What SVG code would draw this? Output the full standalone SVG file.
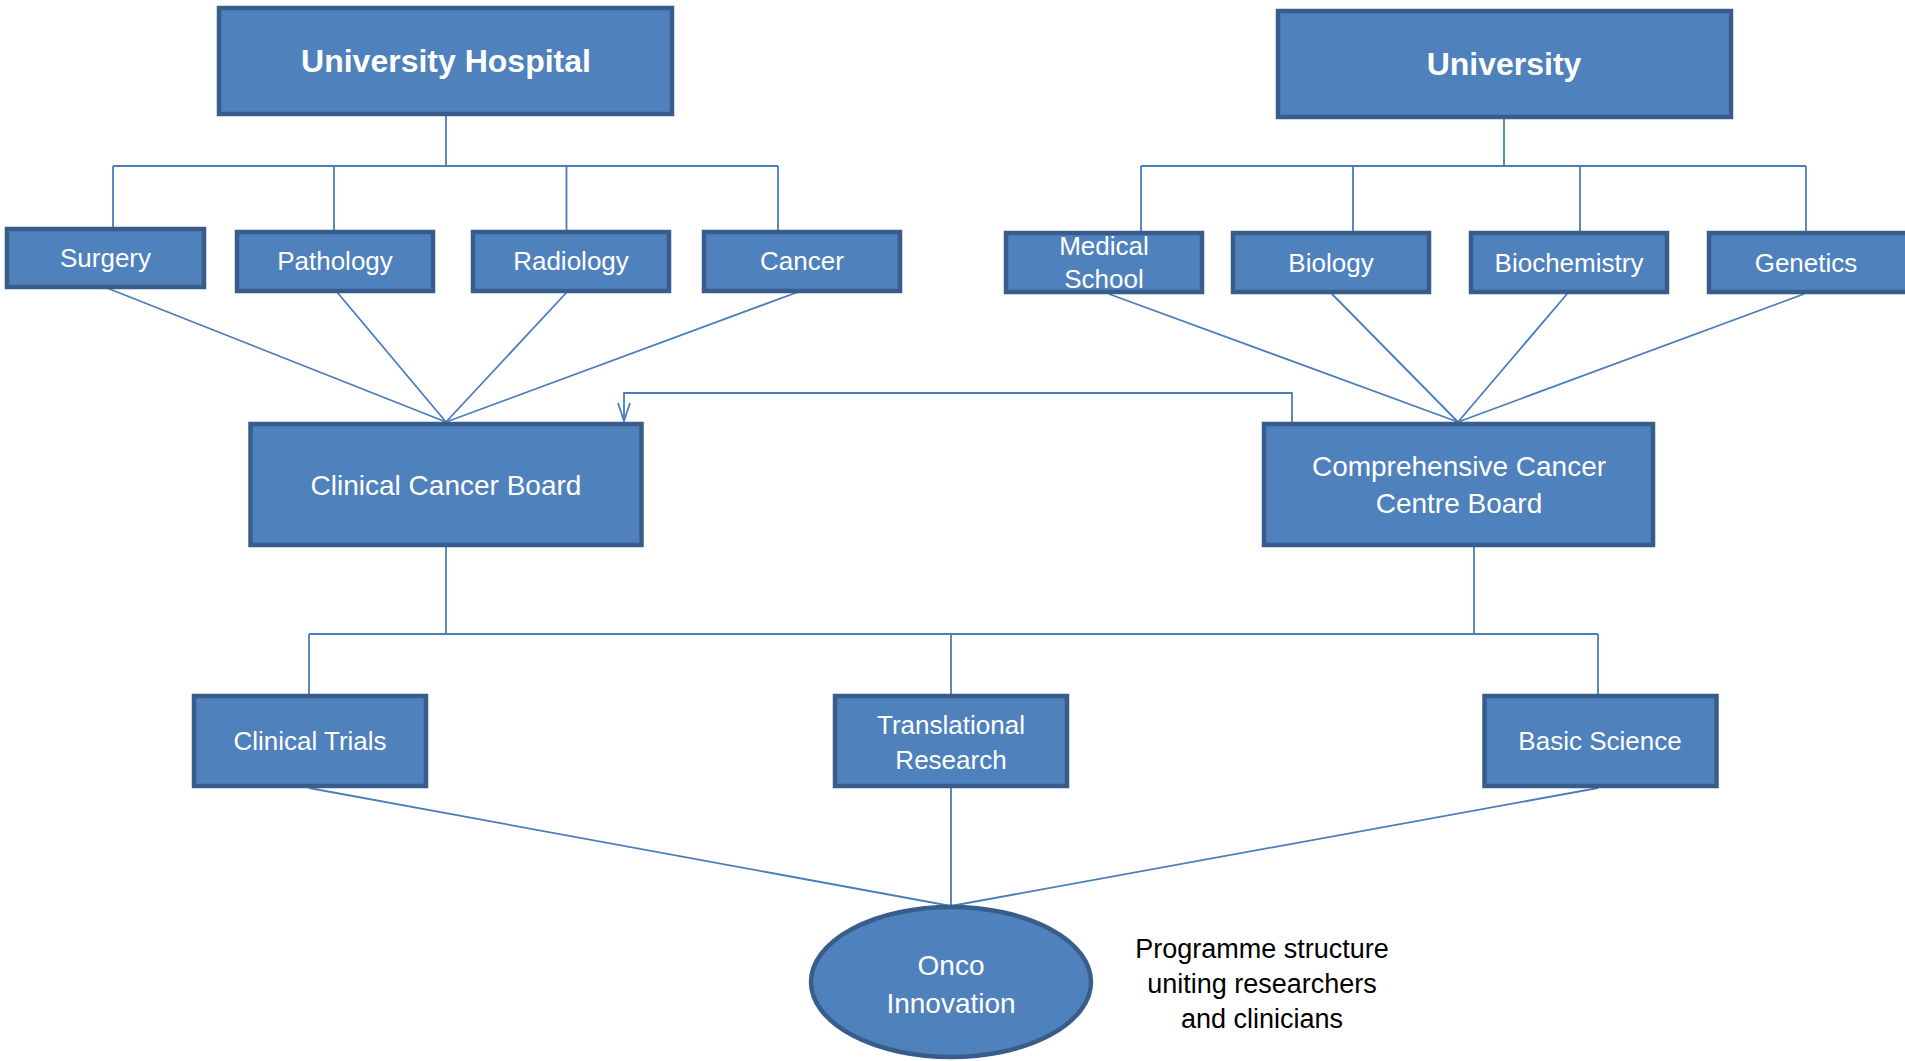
<svg xmlns="http://www.w3.org/2000/svg" width="1905" height="1061" viewBox="0 0 1905 1061">
<style>
.box{fill:#4F81BD;stroke:#385D8A;stroke-width:4.5}
.t{font-family:"Liberation Sans",Arial,sans-serif;fill:#FFFFFF;text-anchor:middle;font-size:26px}
.tb{font-weight:bold;font-size:32px}
.tm{font-size:28px}
.c{fill:none;stroke:#4A7EBB;stroke-width:1.8}
.note{font-family:"Liberation Sans",Arial,sans-serif;fill:#000000;text-anchor:middle;font-size:27px}
</style>
<defs>
<marker id="arr" viewBox="0 0 20 14" refX="19" refY="7" markerWidth="20" markerHeight="14" markerUnits="userSpaceOnUse" orient="auto">
<path d="M1,1 L19,7 L1,13" fill="none" stroke="#4A7EBB" stroke-width="1.8"/>
</marker>
</defs>
<rect width="1905" height="1061" fill="#FFFFFF"/>
<g id="connectors">
<path class="c" d="M446,116 V166 M113,166 H778 M113,166 V227 M334,166 V230 M566.5,166 V230 M778,166 V230"/>
<path class="c" d="M1504,119 V166 M1141,166 H1806 M1141,166 V231 M1353,166 V231 M1580,166 V231 M1806,166 V231"/>
<path class="c" d="M107,288 L446,422 M337,292 L446,422 M567,292 L446,422 M798,292 L446,422"/>
<path class="c" d="M1109,294 L1458,422 M1332,294 L1458,422 M1567,294 L1458,422 M1804,294 L1458,422"/>
<path class="c" d="M1292,422 V393 H624 V421" marker-end="url(#arr)"/>
<path class="c" d="M446,547 V634 M1474,547 V634 M309,634 H1598 M309,634 V694 M951,634 V694 M1598,634 V694"/>
<path class="c" d="M309,788 L951,906 M951,788 V906 M1598,788 L951,906"/>
</g>
<g id="university-hospital"><rect class="box" x="219" y="8" width="453" height="106"/><text class="t tb" x="446" y="72">University Hospital</text></g>
<g id="university"><rect class="box" x="1278" y="11" width="453" height="106"/><text class="t tb" x="1504" y="75">University</text></g>
<g id="surgery"><rect class="box" x="7" y="229" width="197" height="58"/><text class="t" x="105.5" y="267">Surgery</text></g>
<g id="pathology"><rect class="box" x="237" y="232" width="196" height="59"/><text class="t" x="335" y="270">Pathology</text></g>
<g id="radiology"><rect class="box" x="473" y="232" width="196" height="59"/><text class="t" x="571" y="270">Radiology</text></g>
<g id="cancer"><rect class="box" x="704" y="232" width="196" height="59"/><text class="t" x="802" y="270">Cancer</text></g>
<g id="medical-school"><rect class="box" x="1006" y="233" width="196" height="59"/><text class="t" x="1104" y="255">Medical</text><text class="t" x="1104" y="288">School</text></g>
<g id="biology"><rect class="box" x="1233" y="233" width="196" height="59"/><text class="t" x="1331" y="272">Biology</text></g>
<g id="biochemistry"><rect class="box" x="1471" y="233" width="196" height="59"/><text class="t" x="1569" y="272">Biochemistry</text></g>
<g id="genetics"><rect class="box" x="1709" y="233" width="200" height="59"/><text class="t" x="1806" y="272">Genetics</text></g>
<g id="clinical-cancer-board"><rect class="box" x="250.5" y="424" width="391" height="121"/><text class="t tm" x="446" y="495">Clinical Cancer Board</text></g>
<g id="comprehensive-cancer-centre-board"><rect class="box" x="1264" y="424" width="389" height="121"/><text class="t tm" x="1459" y="476">Comprehensive Cancer</text><text class="t tm" x="1459" y="513">Centre Board</text></g>
<g id="clinical-trials"><rect class="box" x="194" y="696" width="232" height="90"/><text class="t" x="310" y="750">Clinical Trials</text></g>
<g id="translational-research"><rect class="box" x="835" y="696" width="232" height="90"/><text class="t" x="951" y="734">Translational</text><text class="t" x="951" y="769">Research</text></g>
<g id="basic-science"><rect class="box" x="1484.5" y="696" width="232" height="90"/><text class="t" x="1600" y="750">Basic Science</text></g>
<g id="onco-innovation"><ellipse class="box" cx="951" cy="982" rx="140" ry="75"/><text class="t tm" x="951" y="975">Onco</text><text class="t tm" x="951" y="1013">Innovation</text></g>
<g id="note"><text class="note" x="1262" y="958">Programme structure</text><text class="note" x="1262" y="993">uniting researchers</text><text class="note" x="1262" y="1028">and clinicians</text></g>
</svg>
